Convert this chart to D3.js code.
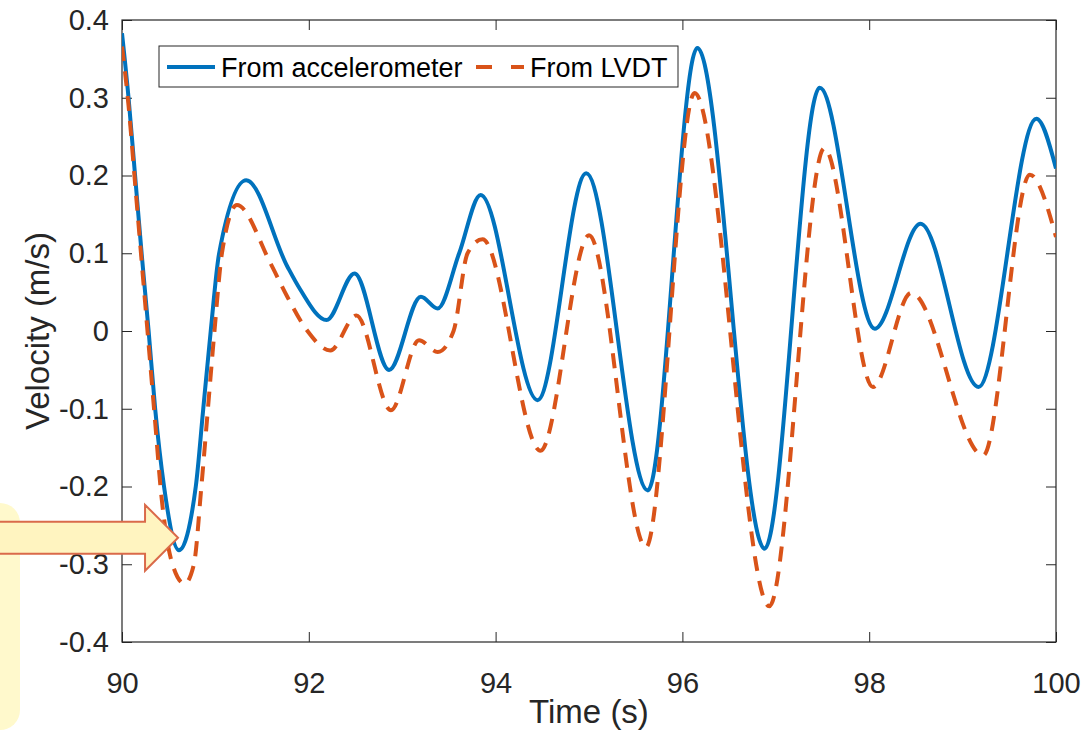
<!DOCTYPE html>
<html>
<head>
<meta charset="utf-8">
<script src="https://cdn.jsdelivr.net/npm/d3@7"></script>
<style>
  html, body { margin: 0; padding: 0; background: #fff; }
  svg { display: block; font-family: "Liberation Sans", Arial, sans-serif; }
</style>
</head>
<body>
<svg id="chart" width="1090" height="733"></svg>
<script>
// time (s) and velocity (m/s)
const accTime = [90.0, 90.07, 90.14, 90.21, 90.285, 90.355, 90.45, 90.61, 90.79, 90.87, 90.95, 91.04, 91.33, 91.77, 91.91,
  92.19, 92.49, 92.86, 93.20, 93.38, 93.61, 93.84, 94.45, 94.97, 95.63, 96.16, 96.88, 97.47, 98.06, 98.55,
  99.17, 99.79, 100.0]
const accVel = [0.383, 0.30, 0.20, 0.10, 0.0, -0.10, -0.20, -0.282, -0.20, -0.10, 0.0, 0.10, 0.194, 0.083, 0.053,
  0.014, 0.074, -0.050, 0.044, 0.029, 0.10, 0.175, -0.089, 0.203, -0.205, 0.364, -0.280, 0.313, 0.003, 0.138,
  -0.072, 0.273, 0.209]

const lvdtTime = [90.0, 90.07, 90.14, 90.21, 90.28, 90.35, 90.42, 90.54, 90.67, 90.77, 90.85, 90.92, 90.99, 91.07, 91.23,
  91.59, 91.77, 91.98, 92.23, 92.51, 92.88, 93.18, 93.38, 93.55, 93.70, 93.86, 94.48, 95.0, 95.61, 96.13,
  96.93, 97.52, 98.04, 98.45, 99.22, 99.72, 100.0]
const lvdtVel = [0.366, 0.29, 0.19, 0.09, -0.01, -0.11, -0.21, -0.30, -0.325, -0.30, -0.20, -0.10, 0.0, 0.10, 0.162,
  0.087, 0.044, 0.001, -0.025, 0.020, -0.102, -0.012, -0.027, 0.0, 0.10, 0.118, -0.154, 0.123, -0.278, 0.306,
  -0.354, 0.235, -0.072, 0.049, -0.160, 0.201, 0.121]

const xTicks = [90, 92, 94, 96, 98, 100]
const yTicks = [-0.4, -0.3, -0.2, -0.1, 0, 0.1, 0.2, 0.3, 0.4]
const seriesNames = ['From accelerometer', 'From LVDT']

// arrow points at the accelerometer minimum
const arrowTarget = [90.6, -0.266]

const blue = '#0072BD'
const orange = '#D95319'
const ink = '#262626'

const margin = { top: 20, right: 34, bottom: 91, left: 122 }
const width = 1090 - margin.left - margin.right
const height = 733 - margin.top - margin.bottom

const svg = d3.select('#chart')

const x = d3.scaleLinear().domain([90, 100]).range([0, width])
const y = d3.scaleLinear().domain([-0.4, 0.4]).range([height, 0])

const g = svg.append('g')
  .attr('transform', `translate(${margin.left}, ${margin.top})`)

g.append('clipPath').attr('id', 'clip')
  .append('rect').attr('width', width).attr('height', height)

const fmt = d => d === 0 ? '0' : d.toFixed(1)

function styleAxis(sel) {
  sel.select('.domain').remove()
  sel.selectAll('.tick line').attr('stroke', ink).attr('stroke-width', 1)
  sel.selectAll('.tick text')
    .attr('fill', ink)
    .style('font-size', '29px')
}

g.append('g')
  .attr('transform', `translate(0, ${height})`)
  .call(d3.axisBottom(x).tickValues(xTicks).tickSize(-10).tickPadding(30).tickFormat(d3.format('d')))
  .call(styleAxis)

g.append('g')
  .call(d3.axisTop(x).tickValues(xTicks).tickSize(-10).tickFormat(''))
  .call(styleAxis)

g.append('g')
  .call(d3.axisLeft(y).tickValues(yTicks).tickSize(-10).tickPadding(13).tickFormat(fmt))
  .call(styleAxis)

g.append('g')
  .attr('transform', `translate(${width}, 0)`)
  .call(d3.axisRight(y).tickValues(yTicks).tickSize(-10).tickFormat(''))
  .call(styleAxis)

g.append('rect')
  .attr('width', width)
  .attr('height', height)
  .attr('fill', 'none')
  .attr('stroke', ink)
  .attr('stroke-width', 1.2)

const line = d3.line()
  .x(d => x(d[0]))
  .y(d => y(d[1]))
  .curve(d3.curveMonotoneX)

const plot = g.append('g').attr('clip-path', 'url(#clip)')

plot.append('path')
  .datum(d3.zip(accTime, accVel))
  .attr('d', line)
  .attr('fill', 'none')
  .attr('stroke', blue)
  .attr('stroke-width', 4)
  .attr('stroke-linejoin', 'round')

plot.append('path')
  .datum(d3.zip(lvdtTime, lvdtVel))
  .attr('d', line)
  .attr('fill', 'none')
  .attr('stroke', orange)
  .attr('stroke-width', 4)
  .attr('stroke-dasharray', '15,10')

// axis labels
svg.append('text')
  .attr('x', margin.left + width / 2)
  .attr('y', 723)
  .attr('text-anchor', 'middle')
  .attr('fill', ink)
  .style('font-size', '33px')
  .text('Time (s)')

svg.append('text')
  .attr('transform', `translate(49, ${margin.top + height / 2}) rotate(-90)`)
  .attr('text-anchor', 'middle')
  .attr('fill', ink)
  .style('font-size', '33px')
  .text('Velocity (m/s)')

// legend
const legend = g.append('g').attr('transform', 'translate(37, 26)')
legend.append('rect')
  .attr('width', 519)
  .attr('height', 41)
  .attr('fill', '#fff')
  .attr('stroke', ink)
  .attr('stroke-width', 1)

const legendItems = [
  { name: seriesNames[0], color: blue, dash: null, x0: 8 },
  { name: seriesNames[1], color: orange, dash: '16,19', x0: 317 }
]
legendItems.forEach(it => {
  legend.append('line')
    .attr('x1', it.x0).attr('x2', it.x0 + 48)
    .attr('y1', 21).attr('y2', 21)
    .attr('stroke', it.color)
    .attr('stroke-width', 4)
    .attr('stroke-dasharray', it.dash)
  legend.append('text')
    .attr('x', it.x0 + 54)
    .attr('y', 30.5)
    .attr('fill', '#000')
    .style('font-size', '27px')
    .text(it.name)
})

// yellow call-out on the left
svg.insert('rect', ':first-child')
  .attr('x', -40).attr('y', 503)
  .attr('width', 60).attr('height', 227)
  .attr('rx', 20)
  .attr('fill', '#FFF9CC')

const tipX = margin.left + x(arrowTarget[0])
const tipY = margin.top + y(arrowTarget[1])
const arrow = d3.path()
arrow.moveTo(-5, tipY - 16)
arrow.lineTo(tipX - 33, tipY - 16)
arrow.lineTo(tipX - 33, tipY - 33)
arrow.lineTo(tipX, tipY)
arrow.lineTo(tipX - 33, tipY + 33)
arrow.lineTo(tipX - 33, tipY + 16)
arrow.lineTo(-5, tipY + 16)
arrow.closePath()
svg.append('path')
  .attr('d', arrow.toString())
  .attr('fill', '#FFF4C0')
  .attr('stroke', '#DA6A4A')
  .attr('stroke-width', 2)
</script>
</body>
</html>
